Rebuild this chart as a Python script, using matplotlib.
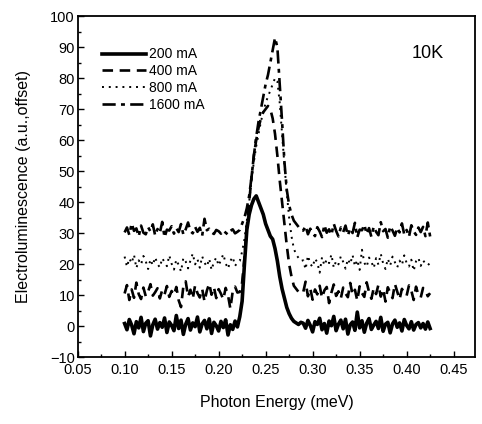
import numpy as np
import matplotlib
matplotlib.use('Agg')
import matplotlib.pyplot as plt
from matplotlib.ticker import MultipleLocator, FormatStrFormatter

plt.rcParams['font.family'] = ['Liberation Sans', 'DejaVu Sans']

# photon energy grid (meV), 0.100 ... 0.425
energy = np.linspace(0.100, 0.425, 131)

labels = ['200 mA', '400 mA', '800 mA', '1600 mA']

# 200 mA, offset 0
el_200 = [
    0.8, -1.2, 2.1, 0.3, -2.5, 1.4, -0.6, 2.8, -1.8, 0.9,
    1.7, -3.2, 0.4, 2.2, -1.0, 1.1, -0.4, 2.6, -2.1, 1.3,
    0.2, -1.5, 3.4, -0.8, 1.9, -2.7, 0.6, 2.4, -1.3, 1.0,
    -0.2, 2.9, -1.9, 0.7, 1.8, -0.9, 2.3, -2.4, 1.2, 0.1,
    -1.6, 1.5, -0.5, 2.0, -2.9, 0.4, -1.1, 1.6, -0.3,
    3, 8, 20, 31, 36, 39, 41, 42, 40, 38, 36, 33, 31, 29, 28, 25, 21, 16, 12, 9,
    6, 4, 2.5, 1.5, 1, 0.5, 1.2,
    0.9, -0.7, 1.8, 0.2, -1.9, 1.4, 0.5, 2.5, -1.2, 0.8,
    -2.3, 1.6, 0.1, 3.1, -1.5, 0.6, 1.9, -0.9, 2.2, -2.6,
    0.4, 1.3, -1.4, 4.5, -0.6, 1.7, -2.0, 0.9, 2.4, -1.1,
    0.3, 1.5, -0.8, 2.8, -1.7, 0.6, 1.2, -2.2, 0.7, 1.9,
    -0.4, 1.0, -1.6, 2.1, 0.2, -0.9, 1.4, -1.3, 0.5, 1.1,
    -0.6, 0.8, -1.0, 1.3, -0.8,
]

# 400 mA, offset 10
el_400 = [
    10.5, 13.2, 8.4, 11.8, 9.1, 14.0, 10.3, 8.7, 12.4, 9.6,
    11.1, 13.5, 9.8, 10.9, 12.2, 8.9, 11.6, 10.2, 12.9, 9.4,
    11.3, 10.0, 12.6, 8.3, 6.1, 12.8, 14.4, 9.5, 11.7, 8.8,
    13.1, 10.6, 9.2, 12.0, 7.9, 11.4, 13.7, 10.1, 12.5, 9.0,
    11.9, 10.4, 8.6, 12.3, 9.9, 5.6, 11.2, 12.7, 10.8,
    11, 14, 22, 32, 40, 48, 55, 60, 64, 67, 69, 70, 71, 70, 67, 62, 55, 47, 40, 33,
    26, 20, 16, 13, 12, 11, 10.5,
    10.9, 14.3, 9.6, 12.1, 8.5, 11.8, 10.2, 13.0, 9.1, 11.5,
    12.6, 7.4, 10.8, 13.4, 9.7, 11.2, 8.9, 12.4, 10.5, 9.3,
    13.9, 10.1, 11.7, 8.2, 12.8, 10.6, 9.4, 14.1, 11.0, 8.8,
    12.2, 10.3, 13.3, 9.5, 11.9, 7.9, 12.5, 10.7, 9.0, 13.6,
    11.1, 8.6, 12.0, 10.4, 9.8, 13.1, 11.4, 8.4, 12.7, 10.0,
    9.2, 12.3, 11.6, 9.6, 10.6,
]

# 800 mA, offset 20
el_800 = [
    22.4, 19.1, 21.8, 20.3, 23.0, 18.7, 21.2, 19.8, 22.6, 20.9,
    18.4, 21.5, 19.6, 22.2, 20.0, 18.9, 21.9, 20.6, 19.3, 22.8,
    20.1, 18.2, 21.4, 19.7, 17.6, 22.0, 20.8, 18.6, 21.1, 23.4,
    19.9, 21.6, 18.8, 22.5, 20.4, 19.2, 21.7, 18.1, 20.7, 22.1,
    19.5, 21.3, 23.2, 20.2, 18.5, 21.0, 22.3, 19.4, 20.5,
    21, 24, 28, 34, 40, 47, 53, 58, 62, 66, 69, 72, 74, 76, 78, 80, 79, 72, 62, 52,
    43, 35, 29, 25, 23, 22, 21,
    21.2, 18.3, 22.7, 20.1, 19.0, 21.8, 20.5, 17.2, 22.2, 19.6,
    21.5, 20.3, 23.1, 18.8, 21.0, 19.9, 22.5, 20.7, 18.5, 21.6,
    20.0, 22.9, 19.3, 21.3, 18.1, 24.6, 20.4, 19.1, 22.1, 20.8,
    18.7, 21.9, 19.8, 23.3, 20.2, 18.4, 21.7, 19.5, 22.4, 20.6,
    18.9, 21.1, 19.7, 22.8, 20.3, 19.2, 21.4, 17.8, 20.9, 22.0,
    19.4, 21.2, 20.1, 19.6, 20.4,
]

# 1600 mA, offset 30
el_1600 = [
    30.2, 31.8, 29.4, 33.1, 30.7, 31.5, 28.9, 32.4, 30.1, 29.6,
    31.9, 30.5, 32.8, 29.2, 31.3, 30.0, 33.6, 28.6, 31.1, 30.8,
    32.2, 29.8, 31.6, 30.3, 32.9, 29.5, 31.2, 33.4, 30.6, 29.9,
    32.0, 30.4, 31.7, 29.1, 34.6, 30.9, 31.4, 30.2, 29.7, 31.0,
    30.6, 29.8, 30.9, 30.1, 29.5, 30.7, 31.2, 29.9, 30.4,
    31, 33, 35, 38, 42, 48, 55, 61, 66, 70, 74, 78, 81, 85, 89, 93, 90, 78, 66, 53,
    44, 39, 36, 34, 33, 32, 31,
    30.8, 32.3, 29.6, 31.4, 30.2, 29.0, 31.9, 30.5, 28.7, 32.6,
    30.1, 31.2, 29.4, 33.0, 30.7, 28.9, 31.8, 30.3, 32.4, 29.2,
    31.5, 30.0, 33.3, 28.6, 31.1, 30.9, 32.7, 29.7, 31.6, 28.8,
    32.1, 30.4, 29.3, 33.5, 30.6, 31.3, 28.5, 32.2, 30.8, 29.1,
    31.7, 30.2, 33.1, 29.5, 31.0, 28.8, 32.5, 30.6, 29.4, 31.8,
    30.3, 32.0, 29.0, 33.4, 28.9,
]

fig = plt.figure(figsize=(4.82, 4.24), dpi=100)
ax = fig.add_axes([0.161, 0.158, 0.825, 0.804])

ax.plot(energy, el_200, color='black', lw=2.6, ls='-', label=labels[0])
ax.plot(energy, el_400, color='black', lw=1.9, ls=(0, (4, 2.5)), label=labels[1])
ax.plot(energy, el_800, color='black', lw=1.4, ls=(0, (1, 2.5)), label=labels[2])
ax.plot(energy, el_1600, color='black', lw=1.9, ls=(0, (5, 2, 1.5, 2)), label=labels[3])

ax.set_xlim(0.05, 0.473)
ax.set_ylim(-10, 100)
ax.xaxis.set_major_locator(MultipleLocator(0.05))
ax.xaxis.set_minor_locator(MultipleLocator(0.025))
ax.xaxis.set_major_formatter(FormatStrFormatter('%.2f'))
ax.yaxis.set_major_locator(MultipleLocator(10))
ax.yaxis.set_minor_locator(MultipleLocator(5))
ax.tick_params(which='both', direction='in', labelsize=10.5)
ax.tick_params(which='major', length=4, width=1)
ax.tick_params(which='minor', length=2.5, width=1)
ax.tick_params(axis='x', pad=4)
ax.tick_params(axis='y', pad=2)
for s in ax.spines.values():
    s.set_linewidth(1.3)

ax.set_xlabel('Photon Energy (meV)', fontsize=11.5, labelpad=13)
ax.set_ylabel('Electroluminescence (a.u.,offset)', fontsize=11.5, labelpad=14)

ax.text(0.422, 88, '10K', fontsize=13, ha='center', va='center')

ax.legend(loc='upper left', bbox_to_anchor=(0.03, 0.945), frameon=False,
          handlelength=3.2, fontsize=10, labelspacing=0.2, handletextpad=0.2)

fig.savefig('out.png', dpi=100)
